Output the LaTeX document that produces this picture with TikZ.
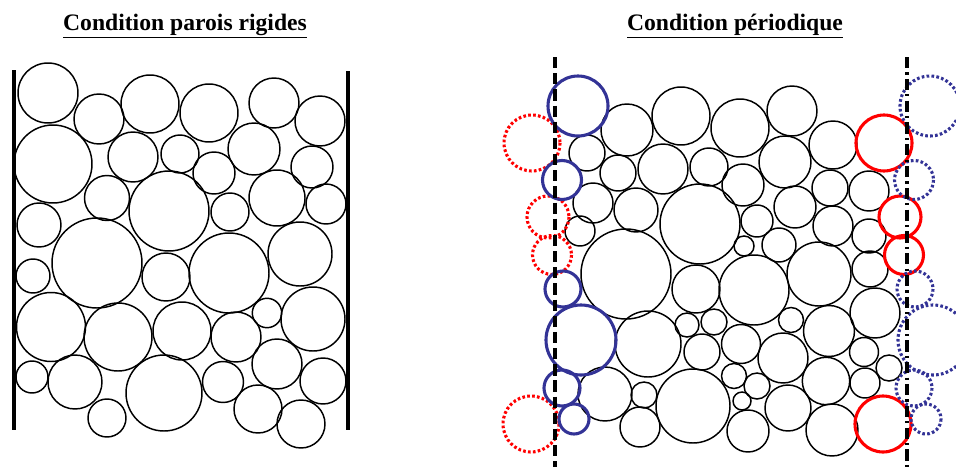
\documentclass[tikz,border=0pt]{standalone}
\usepackage{fontspec}
\setmainfont{Liberation Serif}

\definecolor{bleuper}{RGB}{51,51,150}

\begin{document}
\begin{tikzpicture}[x=0.025cm, y=-0.025cm,
  grain/.style={line width=1.05pt},
  paroi/.style={line width=2.3pt, line cap=butt},
  bord/.style={line width=2.2pt},
  copie/.style={line width=2.2pt, dash pattern=on 1.9pt off 1.6pt},
  titre/.style={font=\bfseries\fontsize{16.8}{19}\selectfont}]
  % Frame of the picture
  \useasboundingbox (0,0) rectangle (956,467);

  % Titles
  \node[titre] (titreA) at (185,26) {\underline{Condition parois rigides}};
  \node[titre] (titreB) at (735,26) {\underline{Condition périodique}};

  % Left: grains between rigid walls
  \foreach \x/\y/\r in {48/93/30, 99/119/25, 150/104/29, 209/113/29, 274/103/25,
      320/121/25, 53/164/39, 133/157/25, 180/154/19, 254/149/26, 312/167/21,
      214/173/21, 107/198/22.5, 169/211/40, 277/198/28, 326/204/20, 230/212/19,
      39/225/22, 97/263/45, 33/276/17, 166/277/24, 229/273/40, 300/254/32,
      51/327/34.5, 118/337/34, 182/331/29, 236/337/25, 267/313/14.7, 313/319/32,
      32/377/16, 75/382/27, 164/393/38, 223/382/20.5, 277/364/25, 323/381/23,
      107/418/19, 258/409/24, 301/424/24}
    \draw[grain] (\x,\y) circle[radius=\r];

  % Rigid walls
  \draw[paroi] (14,70) -- (14,430);
  \draw[paroi] (348,71) -- (348,430);

  % Right: grains of the periodic cell
  \foreach \x/\y/\r in {627/130/26, 681/116/29, 587/153/18, 618/173/18, 663/169/25,
      709/167/19, 593/203/20, 636/210/22, 580/231/15, 700/224/40, 626/274/45,
      696/289/24, 648/344/33, 687/325/12, 714/322/13, 702/352/18, 605/394/27,
      644/395/13, 640/427/20, 693/406/37, 740/128/29, 792/111/25, 785/162/26,
      833/145/24, 743/185/21, 795/207/21, 830/188/18, 869/191/20, 833/226/20,
      757/221/16, 744/246/10, 779/245/17, 869/236/17, 819/274/32, 870/269/18,
      754/290/35, 791/320/12.5, 829/331/25.5, 875/313/25, 741/344/19.5,
      783/358/25, 864/352/14.5, 889/368/13, 734/376/12.5, 757/386/13,
      826/381/23.7, 865/383/15, 742/401/9, 788/408/23, 748/431/21, 832/430/26}
    \draw[grain] (\x,\y) circle[radius=\r];

  % Grains cut by the right boundary and their copies on the left
  \foreach \x/\y/\r in {884/143/28, 900/217/21, 904/255/19.5, 883/424/28} {
    \draw[bord, red] (\x,\y) circle[radius=\r];
    \draw[copie, red] (\x-352,\y) circle[radius=\r];
  }

  % Grains cut by the left boundary and their copies on the right
  \foreach \x/\y/\r in {578/106/30, 562/180/19.5, 563/289/18, 581/340/35,
      562/388/18, 574/419/15} {
    \draw[bord, bleuper] (\x,\y) circle[radius=\r];
    \draw[copie, bleuper] (\x+352,\y) circle[radius=\r];
  }

  % Periodic boundaries
  \draw[paroi, dash pattern=on 8pt off 3.5pt] (555,57) -- (555,467);
  \draw[paroi, dash pattern=on 8pt off 3pt on 1.5pt off 3pt] (907,57) -- (907,467);
\end{tikzpicture}
\end{document}
